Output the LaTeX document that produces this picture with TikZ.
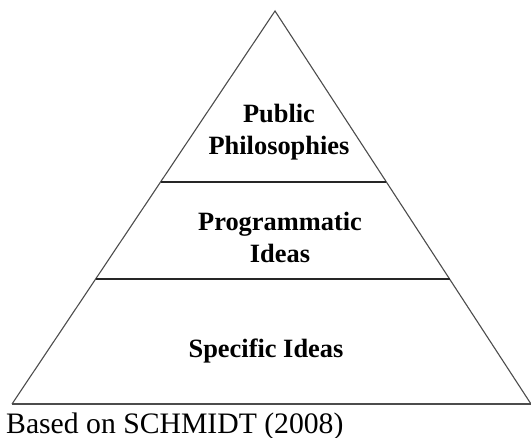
\documentclass[tikz,border=0pt]{standalone}
\usepackage{fontspec}
\setmainfont{Liberation Serif}
\usetikzlibrary{calc}
\begin{document}
\begin{tikzpicture}[x=1bp,y=-1bp,
  side/.style={draw=black!70,line width=1.1bp},
  tier/.style={draw=black!85,line width=1.3bp},
  label/.style={font=\fontsize{26.5}{32.5}\selectfont\bfseries,align=center,inner sep=0pt,anchor=base},
  caption/.style={font=\fontsize{29.8}{32}\selectfont,inner sep=0pt,anchor=base west}]
  \useasboundingbox (0,0) rectangle (531,438);
  % pyramid outline
  \coordinate (apex) at (275,11);
  \coordinate (bl) at (12,404);
  \coordinate (br) at (531,404);
  \draw[side] (bl) -- (apex) -- (br);
  \draw[side,line width=1.6bp] (bl) -- (br);
  % tier dividers
  \coordinate (t1l) at ($(bl)!0.565!(apex)$);
  \coordinate (t1r) at ($(br)!0.565!(apex)$);
  \coordinate (t2l) at ($(bl)!0.318!(apex)$);
  \coordinate (t2r) at ($(br)!0.318!(apex)$);
  \draw[tier] (t1l) -- (t1r);
  \draw[tier] (t2l) -- (t2r);
  % tier labels
  \node[label] (top) at (279,155) {Public\\Philosophies};
  \node[label] (mid) at (280,263) {Programmatic\\Ideas};
  \node[label] (low) at (266,357) {Specific Ideas};
  % source note
  \node[caption] (src) at (6,433) {Based on SCHMIDT (2008)};
\end{tikzpicture}
\end{document}
